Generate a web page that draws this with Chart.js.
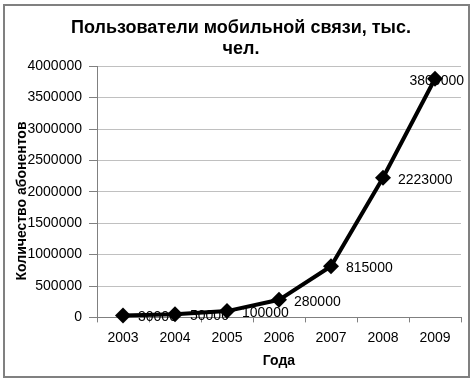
<!DOCTYPE html>
<html>
<head>
<meta charset="utf-8">
<script src="https://cdn.jsdelivr.net/npm/chart.js@4"></script>
<style>
  body { margin: 0; background: #fff; }
  #wrap { width: 474px; height: 381px; }
</style>
</head>
<body>
<div id="wrap"><canvas id="myChart" width="474" height="381"></canvas></div>
<script>
let years = ["2003", "2004", "2005", "2006", "2007", "2008", "2009"];
let subscribers = [30000, 50000, 100000, 280000, 815000, 2223000, 3800000];
let titleLines = ["Пользователи мобильной связи, тыс.", "чел."];
let yTitle = "Количество абонентов";
let xTitle = "Года";

let font = "'Liberation Sans', Arial, sans-serif";

// frame round the whole picture + rotated y title over tick labels
let extras = {
    id: 'extras',
    beforeDraw(chart) {
        let c = chart.ctx;
        c.save();
        c.fillStyle = '#fff';
        c.fillRect(0, 0, chart.width, chart.height);
        c.strokeStyle = '#808080';
        c.lineWidth = 2;
        c.strokeRect(4, 5, chart.width - 9, chart.height - 9);
        c.restore();
    },
    beforeDatasetsDraw(chart) {
        // value labels sit under the line, like in the original
        let c = chart.ctx;
        let meta = chart.getDatasetMeta(0);
        c.save();
        c.font = "14px " + font;
        c.fillStyle = '#000';
        c.textBaseline = 'middle';
        c.textAlign = 'left';
        meta.data.forEach(function (pt, i) {
            let txt = String(subscribers[i]);
            let w = c.measureText(txt).width;
            let x = Math.min(pt.x + 15, 464 - w);
            c.fillText(txt, x, pt.y + 2);
        });
        c.restore();
    },
    afterDraw(chart) {
        let c = chart.ctx;
        c.save();
        c.font = "bold 14px " + font;
        c.fillStyle = '#000';
        c.textAlign = 'center';
        c.textBaseline = 'middle';
        c.translate(22, 201);
        c.rotate(-Math.PI / 2);
        c.fillText(yTitle, 0, 0);
        c.restore();
    }
};

let ctx = document.getElementById("myChart").getContext("2d");

let myChart = new Chart(ctx, {
    type: 'line',
    data: {
        labels: years,
        datasets: [{
            data: subscribers,
            borderColor: '#000',
            backgroundColor: '#000',
            borderWidth: 4,
            pointStyle: 'rectRot',
            pointRadius: 8,
            pointBorderWidth: 0,
            tension: 0,
            clip: false
        }]
    },
    options: {
        responsive: false,
        animation: false,
        layout: { padding: { left: 21, right: 13, top: 5, bottom: 11 } },
        plugins: {
            legend: { display: false },
            tooltip: { enabled: false },
            title: {
                display: true,
                text: titleLines,
                color: '#000',
                font: { family: font, size: 18, weight: 'bold', lineHeight: 1.2 },
                padding: { top: 12, bottom: 6 }
            }
        },
        scales: {
            x: {
                offset: true,
                grid: {
                    offset: true,
                    drawOnChartArea: false,
                    color: '#808080',
                    tickLength: 5
                },
                border: { color: '#808080', width: 1 },
                ticks: { color: '#000', font: { family: font, size: 14 }, padding: 7, maxRotation: 0 },
                title: {
                    display: true,
                    text: xTitle,
                    color: '#000',
                    font: { family: font, size: 14, weight: 'bold' },
                    padding: { top: 0, bottom: 0 }
                }
            },
            y: {
                min: 0,
                max: 4000000,
                afterFit(scale) { scale.width = 76; },
                grid: {
                    color: '#c0c0c0',
                    tickColor: '#808080',
                    tickLength: 8
                },
                border: { color: '#808080', width: 1 },
                ticks: {
                    stepSize: 500000,
                    color: '#000',
                    font: { family: font, size: 14 },
                    padding: 7,
                    callback: function (v) { return String(v); }
                }
            }
        }
    },
    plugins: [extras]
});
</script>
</body>
</html>
